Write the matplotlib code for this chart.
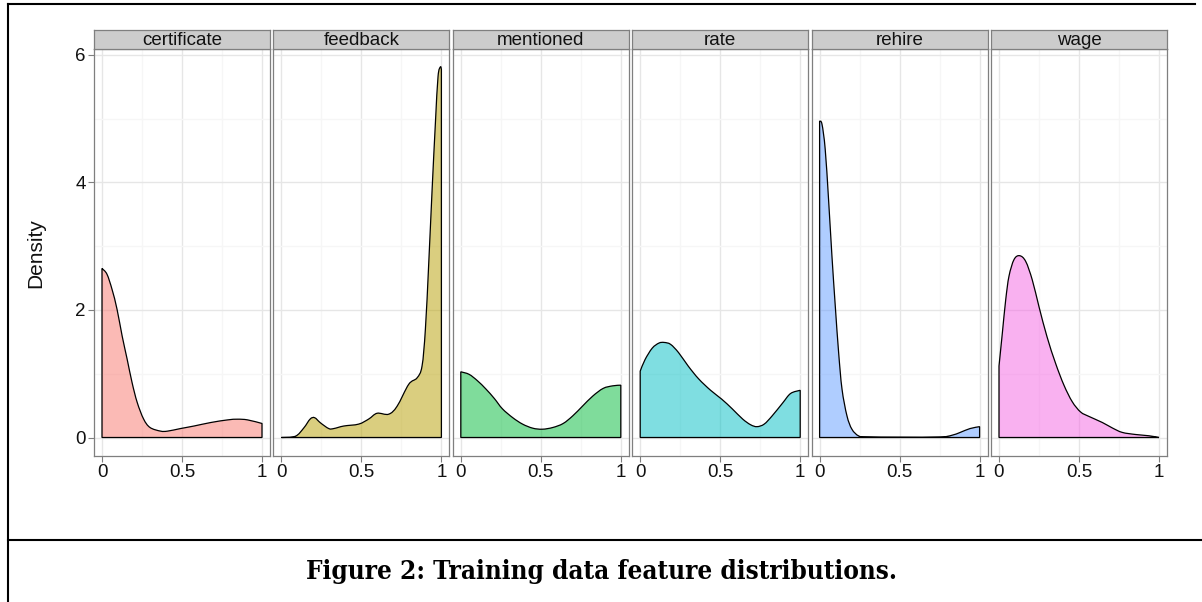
import matplotlib
matplotlib.use("Agg")
import matplotlib.pyplot as plt
from matplotlib.lines import Line2D
from matplotlib.path import Path
from matplotlib.patches import PathPatch

W, H = 1202, 602

features = ["certificate", "feedback", "mentioned", "rate", "rehire", "wage"]
fill_colors = ["#F8766D", "#B79F00", "#00BA38", "#00BFC4", "#619CFF", "#F564E3"]

certificate_x = [0.0, 0.031, 0.063, 0.094, 0.126, 0.157, 0.188, 0.22, 0.26, 0.30, 0.366, 0.41, 0.49, 0.575, 0.68, 0.785, 0.847, 0.91, 1.0]
certificate_y = [2.65, 2.56, 2.32, 2.01, 1.59, 1.23, 0.86, 0.55, 0.29, 0.157, 0.10, 0.10, 0.14, 0.18, 0.235, 0.276, 0.287, 0.276, 0.22]

feedback_x = [0.0, 0.0875, 0.14, 0.18, 0.208, 0.244, 0.296, 0.327, 0.39, 0.483, 0.546, 0.598, 0.67, 0.723, 0.796, 0.848, 0.879, 0.9, 0.921, 0.942, 0.9625, 0.979, 0.994, 1.0]
feedback_y = [0.0, 0.02, 0.15, 0.29, 0.31, 0.23, 0.14, 0.14, 0.18, 0.21, 0.29, 0.38, 0.365, 0.49, 0.835, 0.935, 1.12, 1.70, 2.74, 3.89, 4.93, 5.66, 5.81, 5.77]

mentioned_x = [0.0, 0.052, 0.104, 0.157, 0.21, 0.26, 0.325, 0.386, 0.45, 0.51, 0.575, 0.64, 0.70, 0.76, 0.825, 0.89, 0.95, 1.0]
mentioned_y = [1.03, 0.99, 0.89, 0.76, 0.61, 0.45, 0.31, 0.21, 0.146, 0.13, 0.157, 0.22, 0.34, 0.49, 0.65, 0.77, 0.81, 0.82]

rate_x = [0.0, 0.03, 0.075, 0.117, 0.15, 0.19, 0.24, 0.30, 0.365, 0.44, 0.51, 0.575, 0.64, 0.69, 0.73, 0.775, 0.825, 0.89, 0.94, 1.0]
rate_y = [1.04, 1.22, 1.40, 1.48, 1.49, 1.46, 1.33, 1.12, 0.92, 0.74, 0.60, 0.45, 0.29, 0.20, 0.17, 0.21, 0.34, 0.54, 0.69, 0.74]

rehire_x = [0.0, 0.015, 0.035, 0.056, 0.077, 0.098, 0.119, 0.14, 0.171, 0.202, 0.244, 0.296, 0.504, 0.754, 0.827, 0.879, 0.94, 1.0]
rehire_y = [4.96, 4.91, 4.52, 3.73, 2.85, 2.06, 1.33, 0.76, 0.34, 0.13, 0.025, 0.01, 0.005, 0.008, 0.035, 0.08, 0.14, 0.17]

wage_x = [0.0, 0.021, 0.042, 0.0625, 0.094, 0.129, 0.167, 0.208, 0.25, 0.30, 0.354, 0.406, 0.458, 0.51, 0.5625, 0.646, 0.708, 0.77, 0.854, 0.9375, 1.0]
wage_y = [1.12, 1.64, 2.16, 2.53, 2.79, 2.85, 2.76, 2.47, 2.05, 1.58, 1.16, 0.82, 0.56, 0.40, 0.33, 0.235, 0.15, 0.08, 0.047, 0.027, 0.0]

series_x = [certificate_x, feedback_x, mentioned_x, rate_x, rehire_x, wage_x]
series_y = [certificate_y, feedback_y, mentioned_y, rate_y, rehire_y, wage_y]

x_ticks = [0, 0.5, 1]
x_tick_labels = ["0", "0.5", "1"]
y_ticks = [0, 2, 4, 6]
y_tick_labels = ["0", "2", "4", "6"]

caption = "Figure 2: Training data feature distributions."

plt.rcParams["font.family"] = ["Liberation Sans", "DejaVu Sans"]

fig = plt.figure(figsize=(W / 100, H / 100), dpi=100)


def fx(px):
    return px / W


def fy(py):
    return 1 - py / H


def smooth_outline(xs, ys):
    """Closed density outline: Catmull-Rom curve through the read points
    (drawn as cubic Bezier segments), then straight down to the baseline."""
    verts = [(xs[0], 0.0), (xs[0], ys[0])]
    codes = [Path.MOVETO, Path.LINETO]
    n = len(xs)
    for k in range(n - 1):
        p0 = (xs[max(k - 1, 0)], ys[max(k - 1, 0)])
        p1 = (xs[k], ys[k])
        p2 = (xs[k + 1], ys[k + 1])
        p3 = (xs[min(k + 2, n - 1)], ys[min(k + 2, n - 1)])
        c1 = (p1[0] + (p2[0] - p0[0]) / 6.0, p1[1] + (p2[1] - p0[1]) / 6.0)
        c2 = (p2[0] - (p3[0] - p1[0]) / 6.0, p2[1] - (p3[1] - p1[1]) / 6.0)
        verts += [c1, c2, p2]
        codes += [Path.CURVE4, Path.CURVE4, Path.CURVE4]
    verts += [(xs[-1], 0.0), (xs[0], 0.0)]
    codes += [Path.LINETO, Path.CLOSEPOLY]
    return Path(verts, codes)


panel_left0 = 94
step = 179.4
pw = 176
top = 49
bottom = 456
strip_top = 30
grey50 = "#7F7F7F"

for i, name in enumerate(features):
    left = panel_left0 + i * step
    ax = fig.add_axes([fx(left), fy(bottom), pw / W, (bottom - top) / H])
    ax.set_xlim(-0.05, 1.05)
    ax.set_ylim(-0.29, 6.09)
    ax.set_xticks(x_ticks)
    ax.set_xticklabels(x_tick_labels)
    ax.set_xticks([0.25, 0.75], minor=True)
    ax.set_yticks(y_ticks)
    ax.set_yticks([1, 3, 5], minor=True)
    ax.set_yticklabels(y_tick_labels)
    ax.grid(which="major", color="#E6E6E6", lw=1.0)
    ax.grid(which="minor", color="#F6F6F6", lw=1.0)
    ax.set_axisbelow(True)
    for s in ax.spines.values():
        s.set_color(grey50)
        s.set_linewidth(0.9)
    ax.tick_params(which="major", length=4, color=grey50, width=0.8,
                   labelsize=13.5, pad=2, labelcolor="#111111")
    ax.tick_params(which="minor", length=0)
    if i > 0:
        ax.tick_params(axis="y", left=False, labelleft=False)
    path = smooth_outline(series_x[i], series_y[i])
    ax.add_patch(PathPatch(path, facecolor=fill_colors[i], alpha=0.5,
                           edgecolor="none", zorder=2))
    ax.add_patch(PathPatch(path, facecolor="none", edgecolor="black",
                           lw=0.9, zorder=3))

    sax = fig.add_axes([fx(left), fy(top), pw / W, (top - strip_top) / H])
    sax.set_facecolor("#CCCCCC")
    sax.set_xticks([])
    sax.set_yticks([])
    for s in sax.spines.values():
        s.set_color(grey50)
        s.set_linewidth(0.9)
    sax.text(0.5, 0.45, name, ha="center", va="center", fontsize=13.5,
             color="#111111", transform=sax.transAxes)

fig.text(fx(36), fy(253), "Density", rotation=90, ha="center", va="center",
         fontsize=15, color="#111111")

cap = fig.text(0.5, fy(571), caption, ha="center", va="center",
               fontfamily="DejaVu Serif", fontweight="bold",
               fontstretch="condensed", fontsize=16)
fig.canvas.draw()
bb = cap.get_window_extent(fig.canvas.get_renderer())
cap.set_fontsize(16 * 596 / bb.width)

lw = 1.5
fig.add_artist(Line2D([fx(8), fx(1195)], [fy(4), fy(4)], color="black", lw=lw, transform=fig.transFigure))
fig.add_artist(Line2D([fx(8), fx(8)], [fy(4), fy(602)], color="black", lw=lw, transform=fig.transFigure))
fig.add_artist(Line2D([fx(8), fx(1202)], [fy(540), fy(540)], color="black", lw=lw, transform=fig.transFigure))

fig.savefig("out.png", dpi=100)
